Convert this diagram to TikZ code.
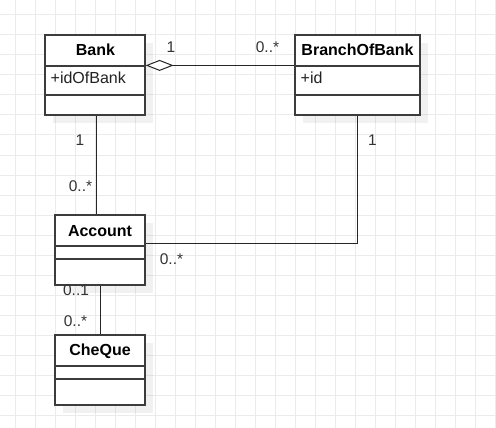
\documentclass[tikz,border=0pt]{standalone}
\usepackage{fontspec}
\setmainfont{Liberation Sans}
\usetikzlibrary{arrows.meta,shadows}
\definecolor{gridc}{HTML}{EBEBEB}
\definecolor{linec}{HTML}{3C3C3C}
\definecolor{textc}{HTML}{222222}
\definecolor{labc}{HTML}{333333}
\tikzset{
  classbox/.style={draw=linec, line width=1.2pt, fill=white, inner sep=0pt,
    general shadow={fill=black, opacity=0.055, shadow xshift=8pt, shadow yshift=-8pt}},
  divider/.style={draw=linec, line width=1.2pt},
  title/.style={font=\fontsize{16}{18}\selectfont\bfseries, text=black, inner sep=0pt, anchor=base},
  attr/.style={font=\fontsize{16}{18}\selectfont, text=textc, inner sep=0pt, anchor=base west},
  conn/.style={draw=black!85, line width=1pt},
  mult/.style={font=\fontsize{15.5}{18}\selectfont, text=labc, inner sep=0pt, anchor=base}
}
\begin{document}
\begin{tikzpicture}[x=1pt,y=-1pt]
\useasboundingbox (0,0) rectangle (496,428);
\fill[white] (0,0) rectangle (496,428);
% grid
\foreach \gx in {15,35,...,495} \draw[gridc, line width=1pt] (\gx,0) -- (\gx,428);
\foreach \gy in {15,35,...,415} \draw[gridc, line width=1pt] (0,\gy) -- (496,\gy);

% classes
\node[classbox, minimum width=100pt, minimum height=80pt] (bank) at (95,75) {};
\node[classbox, minimum width=125pt, minimum height=80pt] (branch) at (357.5,75) {};
\node[classbox, minimum width=90pt, minimum height=70pt] (account) at (100,250) {};
\node[classbox, minimum width=90pt, minimum height=70pt] (cheque) at (100,370) {};

% compartments
\draw[divider] (45,66) -- (145,66);
\draw[divider] (45,95) -- (145,95);
\draw[divider] (295,66) -- (420,66);
\draw[divider] (295,95) -- (420,95);
\draw[divider] (55,246) -- (145,246);
\draw[divider] (55,259) -- (145,259);
\draw[divider] (55,366) -- (145,366);
\draw[divider] (55,379) -- (145,379);

% texts
\node[title] (bankt) at (95.5,56) {Bank};
\node[attr] (banka) at (50.5,84) {+idOfBank};
\node[title] (brancht) at (357.5,56) {BranchOfBank};
\node[attr] (brancha) at (300.5,84) {+id};
\node[title] (accountt) at (100,236) {Account};
\node[title] (chequet) at (100,355.5) {CheQue};

% connectors
\draw[conn, {Diamond[open, fill=white, length=28pt, width=11pt, line width=1pt]}-]
  ([yshift=-31pt]bank.north east) -- ([yshift=-31pt]branch.north west);
\draw[conn] ([xshift=1pt]bank.south) -- ([xshift=1pt]bank.south |- account.north);
\draw[conn] (branch.south) |- ([yshift=-29pt]account.north east);
\draw[conn] (account.south) -- (cheque.north);

% multiplicities
\node[mult] (m1) at (171,52.5) {1};
\node[mult] (m2) at (267.5,52.5) {0..*};
\node[mult] (m3) at (80,146) {1};
\node[mult] (m4) at (80.5,191.5) {0..*};
\node[mult] (m5) at (372.5,146) {1};
\node[mult] (m6) at (171.5,264) {0..*};
\node[mult] (m7) at (76,295.5) {0..1};
\node[mult] (m8) at (75.5,326) {0..*};
\end{tikzpicture}
\end{document}
